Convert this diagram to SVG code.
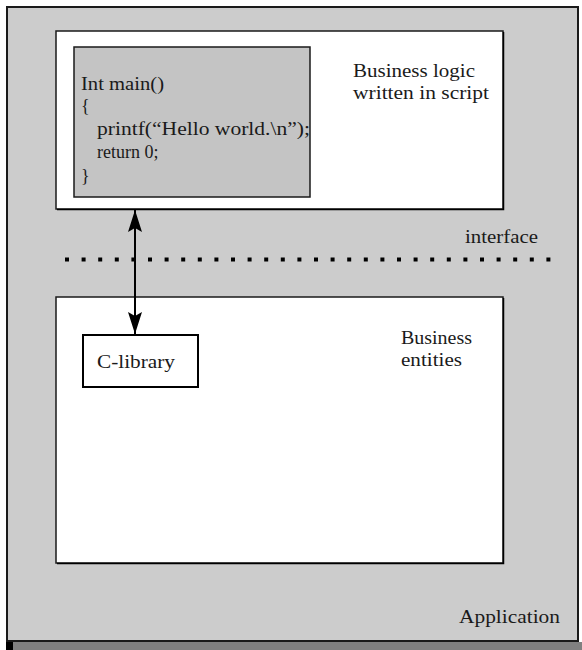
<svg xmlns="http://www.w3.org/2000/svg" width="582" height="650" viewBox="0 0 582 650">
  <style>
    .t { font-family: "Liberation Serif", "Times New Roman", serif; font-size: 18px; fill: #1a1a1a; }
    .box { stroke: #1a1a1a; stroke-width: 1.5; }
  </style>
  <defs>
    <marker id="arr" viewBox="0 0 22 14" refX="22" refY="7" markerWidth="22" markerHeight="14" markerUnits="userSpaceOnUse" orient="auto-start-reverse">
      <path d="M0,0 L22,7 L0,14 L4,7 z" fill="#000"/>
    </marker>
  </defs>
  <rect width="582" height="650" fill="#ffffff"/>

  <g id="application">
    <rect x="6" y="641" width="7" height="9" fill="#000"/>
    <rect x="13" y="642" width="569" height="8" fill="#808080"/>
    <rect x="7" y="7" width="571" height="634" fill="#cccccc" stroke="#1a1a1a" stroke-width="2"/>
    <text class="t" x="459" y="623" textLength="101" lengthAdjust="spacingAndGlyphs">Application</text>
  </g>

  <g id="script-layer">
    <rect class="box" x="56" y="31" width="447" height="178" fill="#ffffff"/>
    <path d="M503.5,32 V209.5 H57" fill="none" stroke="#000" stroke-width="1.5"/>
    <text class="t" x="353" y="77" textLength="122" lengthAdjust="spacingAndGlyphs">Business logic</text>
    <text class="t" x="353" y="99" textLength="136" lengthAdjust="spacingAndGlyphs">written in script</text>
  </g>

  <g id="code">
    <rect class="box" x="74" y="47" width="236" height="150" fill="#c4c4c4"/>
    <text class="t" x="81" y="90" textLength="83" lengthAdjust="spacingAndGlyphs">Int main()</text>
    <text class="t" x="81" y="112">{</text>
    <text class="t" x="97" y="135" textLength="213" lengthAdjust="spacingAndGlyphs">printf(“Hello world.\n”);</text>
    <text class="t" x="97" y="158">return 0;</text>
    <text class="t" x="81" y="182">}</text>
  </g>

  <g id="interface">
    <line x1="65" y1="259.5" x2="555" y2="259.5" stroke="#000" stroke-width="4" stroke-dasharray="4 12.6"/>
    <text class="t" x="465" y="243" textLength="73" lengthAdjust="spacingAndGlyphs">interface</text>
  </g>

  <g id="business-entities">
    <rect class="box" x="56" y="297" width="447" height="266" fill="#ffffff"/>
    <path d="M503.5,298 V563.5 H57" fill="none" stroke="#000" stroke-width="1.5"/>
    <text class="t" x="401" y="344" textLength="71" lengthAdjust="spacingAndGlyphs">Business</text>
    <text class="t" x="401" y="366" textLength="61" lengthAdjust="spacingAndGlyphs">entities</text>
  </g>

  <g id="c-library">
    <rect x="83" y="335" width="115" height="52" fill="#ffffff" stroke="#000" stroke-width="2"/>
    <text class="t" x="97" y="368" textLength="78" lengthAdjust="spacingAndGlyphs">C-library</text>
  </g>

  <g id="connectors">
    <line x1="135" y1="210" x2="135" y2="334" stroke="#000" stroke-width="2" marker-start="url(#arr)" marker-end="url(#arr)"/>
  </g>
</svg>
